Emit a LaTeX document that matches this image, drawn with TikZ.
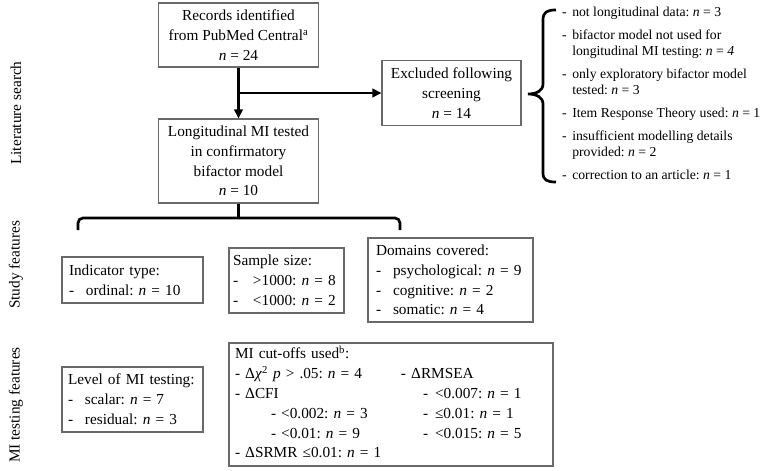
\documentclass[tikz,border=0pt]{standalone}
\usepackage{fontspec}
\setmainfont{Liberation Serif}
\usetikzlibrary{arrows.meta}
\definecolor{boxgray}{RGB}{105,105,105}
\newcommand\bxfont{\fontsize{15.3}{19.8}\selectfont\frenchspacing}
\newcommand\lstfont{\fontsize{13.7}{16}\selectfont\frenchspacing}
\newcommand\dsh{\makebox[17pt][l]{-}}
\frenchspacing
\begin{document}
\begin{tikzpicture}[x=1pt,y=-1pt,
  box/.style={draw=boxgray, line width=1.1pt, inner ysep=0pt, font=\bxfont},
  cbox/.style={box, align=center, inner xsep=0pt},
  lbox/.style={box, align=left},
  arr/.style={line width=2.7pt, -{Triangle[length=9pt,width=8.5pt]}},
  brc/.style={line width=2.7pt},
  side/.style={rotate=90, font=\bxfont, inner sep=0pt},
  lst/.style={font=\lstfont, inner sep=0pt, align=left}]
\useasboundingbox (0,0) rectangle (764,471);

% side labels
\node[side] (ls) at (16,113) {Literature search};
\node[side] (sf) at (16,265) {Study features};
\node[side] (mt) at (16,405) {MI testing features};

% literature search
\node[cbox, minimum width=160pt, minimum height=64pt] (rec) at (238.5,35)
  {Records identified\\from PubMed Central\textsuperscript{a}\\\textit{n} = 24};
\node[cbox, minimum width=160pt, minimum height=84pt] (lon) at (238.5,161)
  {Longitudinal MI tested\\in confirmatory\\bifactor model\\\textit{n} = 10};
\node[cbox, minimum width=139pt, minimum height=65pt] (exc) at (451.5,93)
  {Excluded following\\screening\\\textit{n} = 14};
\coordinate (j) at (238.5,93);
\draw[arr] (rec) -- (lon);
\draw[arr] (j) -- (exc.west);

% right brace
\draw[brc] (556,10) .. controls (547,10) and (543,12) .. (543,20) -- (543,84)
  .. controls (543,91) and (536,94) .. (528,94)
  .. controls (536,94) and (543,97) .. (543,104) -- (543,173)
  .. controls (543,180) and (547,182) .. (556,182);

\node[lst, anchor=north west] (excl) at (562,5) {\begin{tabular}{@{}l@{\hspace{5.5pt}}l@{}}
- & not longitudinal data: \textit{n} = 3\\[7pt]
- & bifactor model not used for\\
  & longitudinal MI testing: \textit{n} = \textit{4}\\[7pt]
- & only exploratory bifactor model\\
  & tested: \textit{n} = 3\\[7pt]
- & Item Response Theory used: \textit{n} = 1\\[7pt]
- & insufficient modelling details\\
  & provided: \textit{n} = 2\\[7pt]
- & correction to an article: \textit{n} = 1
\end{tabular}};

% bottom brace
\coordinate (bl) at (78,230);
\coordinate (br) at (400,230);
\coordinate (bt) at (238.5,218);
\draw[brc, rounded corners=5pt] (bl) -- (78,218) -- (400,218) -- (br);
\draw[brc] (lon.south) -- (bt);

% study features
\node[lbox, minimum height=46pt, inner xsep=7pt, text width=127pt] (ind) at (132.5,280)
  {Indicator type:\\\dsh ordinal: \textit{n} = 10};
\node[lbox, minimum height=65pt, inner xsep=4pt, text width=107pt] (smp) at (286.5,280.5)
  {Sample size:\\\makebox[20pt][l]{-}>1000: \textit{n} = 8\\\makebox[20pt][l]{-}<1000: \textit{n} = 2};
\node[lbox, minimum height=84pt, inner xsep=8pt, text width=149pt] (dom) at (450.5,280)
  {Domains covered:\\\dsh psychological: \textit{n} = 9\\\dsh cognitive: \textit{n} = 2\\\dsh somatic: \textit{n} = 4};

% MI testing features
\node[lbox, minimum height=65pt, inner xsep=6pt, text width=129pt] (lvl) at (132.5,399.5)
  {Level of MI testing:\\\dsh scalar: \textit{n} = 7\\\dsh residual: \textit{n} = 3};
\node[lbox, minimum height=123pt, inner xsep=6pt, text width=312pt] (mic) at (391,404.5)
  {\begin{tabular}{@{}p{166pt}@{}l@{}}
  \multicolumn{2}{@{}l}{MI cut-offs used\textsuperscript{b}:}\\
  - Δ\textit{χ}\textsuperscript{2} \textit{p} > .05: \textit{n} = 4 & - ΔRMSEA\\
  - ΔCFI & \hspace{22pt}-\hspace{7pt}<0.007: \textit{n} = 1\\
  \hspace{36pt}- <0.002: \textit{n} = 3 & \hspace{22pt}-\hspace{7pt}≤0.01: \textit{n} = 1\\
  \hspace{36pt}- <0.01: \textit{n} = 9 & \hspace{22pt}-\hspace{7pt}<0.015: \textit{n} = 5\\
  - ΔSRMR ≤0.01: \textit{n} = 1 &
  \end{tabular}};
\end{tikzpicture}
\end{document}
